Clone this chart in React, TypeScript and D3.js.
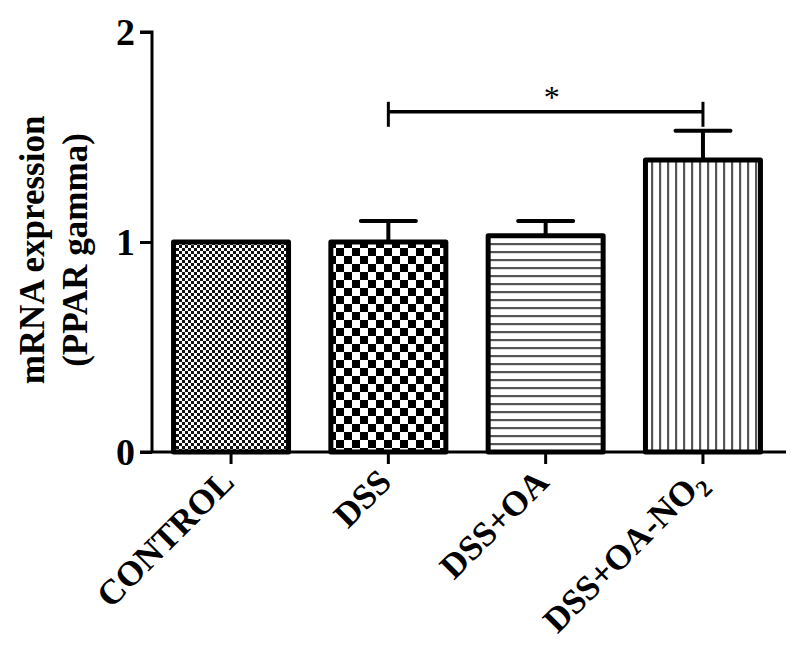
import React, { useRef, useEffect } from 'react';
import * as d3 from 'd3';

const groups = ['CONTROL', 'DSS', 'DSS+OA', 'DSS+OA-NO2'];
const means = [1.0, 1.0, 1.03, 1.39];
const errors = [0, 0.1, 0.07, 0.14];
const patterns = ['fineCheck', 'coarseCheck', 'hLines', 'vLines'];
const yTicks = [0, 1, 2];
const sigPair = ['DSS', 'DSS+OA-NO2'];
const sigLabel = '*';

const W = 800;
const H = 651;
const margin = { top: 32, left: 152 };
const plotW = 630;
const plotH = 420;
const FONT = 'Liberation Serif, Times New Roman, serif';

const App = () => {
  const svgRef = useRef(null);

  useEffect(() => {
    const svgEl = d3.select(svgRef.current);
    svgEl.selectAll('*').remove();

    const defs = svgEl.append('defs');
    // fine checker
    const p1 = defs.append('pattern').attr('id', 'fineCheck').attr('patternUnits', 'userSpaceOnUse')
      .attr('width', 6).attr('height', 6);
    p1.append('rect').attr('width', 6).attr('height', 6).attr('fill', '#fff');
    p1.append('rect').attr('width', 3).attr('height', 3).attr('fill', '#111');
    p1.append('rect').attr('x', 3).attr('y', 3).attr('width', 3).attr('height', 3).attr('fill', '#111');
    // coarse checker
    const p2 = defs.append('pattern').attr('id', 'coarseCheck').attr('patternUnits', 'userSpaceOnUse')
      .attr('width', 16).attr('height', 16);
    p2.append('rect').attr('width', 16).attr('height', 16).attr('fill', '#fff');
    p2.append('rect').attr('width', 8).attr('height', 8).attr('fill', '#000');
    p2.append('rect').attr('x', 8).attr('y', 8).attr('width', 8).attr('height', 8).attr('fill', '#000');
    // horizontal lines
    const p3 = defs.append('pattern').attr('id', 'hLines').attr('patternUnits', 'userSpaceOnUse')
      .attr('width', 8).attr('height', 8);
    p3.append('rect').attr('width', 8).attr('height', 8).attr('fill', '#fff');
    p3.append('rect').attr('y', 3).attr('width', 8).attr('height', 2.2).attr('fill', '#555');
    // vertical lines
    const p4 = defs.append('pattern').attr('id', 'vLines').attr('patternUnits', 'userSpaceOnUse')
      .attr('width', 8).attr('height', 8);
    p4.append('rect').attr('width', 8).attr('height', 8).attr('fill', '#fff');
    p4.append('rect').attr('x', 3).attr('width', 2.2).attr('height', 8).attr('fill', '#555');

    const svg = svgEl.append('g').attr('transform', `translate(${margin.left},${margin.top})`);

    const x = d3.scaleBand().domain(groups).range([0, plotW]).paddingInner(0.269).paddingOuter(0.137);
    const y = d3.scaleLinear().domain([0, 2]).range([plotH, 0]);
    const cxOf = (g) => x(g) + x.bandwidth() / 2;

    // bars
    svg.selectAll('.bar').data(groups).enter().append('rect')
      .attr('x', (d) => x(d))
      .attr('y', (d, i) => y(means[i]))
      .attr('width', x.bandwidth())
      .attr('height', (d, i) => y(0) - y(means[i]))
      .attr('fill', (d, i) => `url(#${patterns[i]})`)
      .attr('stroke', '#000')
      .attr('stroke-width', 5)
      .attr('stroke-linejoin', 'round');

    // error bars (upper only)
    const capW = 55;
    groups.forEach((g, i) => {
      if (!errors[i]) return;
      const cx = cxOf(g);
      svg.append('line').attr('x1', cx).attr('x2', cx)
        .attr('y1', y(means[i])).attr('y2', y(means[i] + errors[i]))
        .attr('stroke', '#000').attr('stroke-width', 4);
      svg.append('line').attr('x1', cx - capW / 2).attr('x2', cx + capW / 2)
        .attr('y1', y(means[i] + errors[i])).attr('y2', y(means[i] + errors[i]))
        .attr('stroke', '#000').attr('stroke-width', 4).attr('stroke-linecap', 'round');
    });

    // y axis
    const yAxis = d3.axisLeft(y).tickValues(yTicks).tickSize(12).tickPadding(5).tickFormat(d3.format('d'));
    const yG = svg.append('g').call(yAxis);
    yG.select('.domain').attr('stroke-width', 3).attr('d', `M-12,${y(2)}H0V${y(0)}`);
    yG.selectAll('line').attr('stroke-width', 3);
    yG.selectAll('text').attr('font-family', FONT)
      .attr('font-weight', 'bold').attr('font-size', 38).attr('fill', '#000').attr('dy', '0.33em');

    // x axis
    const xG = svg.append('g').attr('transform', `translate(0,${plotH})`);
    xG.append('line').attr('x1', -12).attr('x2', plotW + 4).attr('y1', 0).attr('y2', 0)
      .attr('stroke', '#000').attr('stroke-width', 3);
    groups.forEach((g) => {
      const cx = cxOf(g);
      xG.append('line').attr('x1', cx).attr('x2', cx).attr('y1', 0).attr('y2', 12)
        .attr('stroke', '#000').attr('stroke-width', 3);
      const t = xG.append('text')
        .attr('transform', `translate(${cx + 5},${32}) rotate(-45)`)
        .attr('text-anchor', 'end')
        .attr('font-family', FONT)
        .attr('font-weight', 'bold').attr('font-size', 35).attr('fill', '#000');
      if (g.endsWith('NO2')) {
        t.append('tspan').text(g.slice(0, -1));
        t.append('tspan').attr('font-size', 24).attr('dy', 8).text('2');
      } else {
        t.text(g);
      }
    });

    // significance bracket
    const x1 = cxOf(sigPair[0]);
    const x2 = cxOf(sigPair[1]);
    const by = y(1.62);
    svg.append('line').attr('x1', x1).attr('x2', x2).attr('y1', by).attr('y2', by)
      .attr('stroke', '#000').attr('stroke-width', 3.5);
    [x1, x2].forEach((xx) => {
      svg.append('line').attr('x1', xx).attr('x2', xx).attr('y1', by - 10).attr('y2', by + 15)
        .attr('stroke', '#000').attr('stroke-width', 3);
    });
    svg.append('text').attr('x', (x1 + x2) / 2 + 6).attr('y', by - 4)
      .attr('text-anchor', 'middle')
      .attr('font-family', FONT)
      .attr('font-size', 32).text(sigLabel);

    // y label
    const yl = svgEl.append('text')
      .attr('transform', `translate(44,250) rotate(-90)`)
      .attr('text-anchor', 'middle')
      .attr('font-family', FONT)
      .attr('font-weight', 'bold').attr('font-size', 35).attr('fill', '#000');
    yl.append('tspan').attr('x', 0).attr('y', 0).text('mRNA expression');
    yl.append('tspan').attr('x', 0).attr('y', 43).text('(PPAR gamma)');
  }, []);

  return (
    <svg ref={svgRef} width={W} height={H} style={{ position: 'absolute', left: 0, top: 0 }} />
  );
};

export default App;
